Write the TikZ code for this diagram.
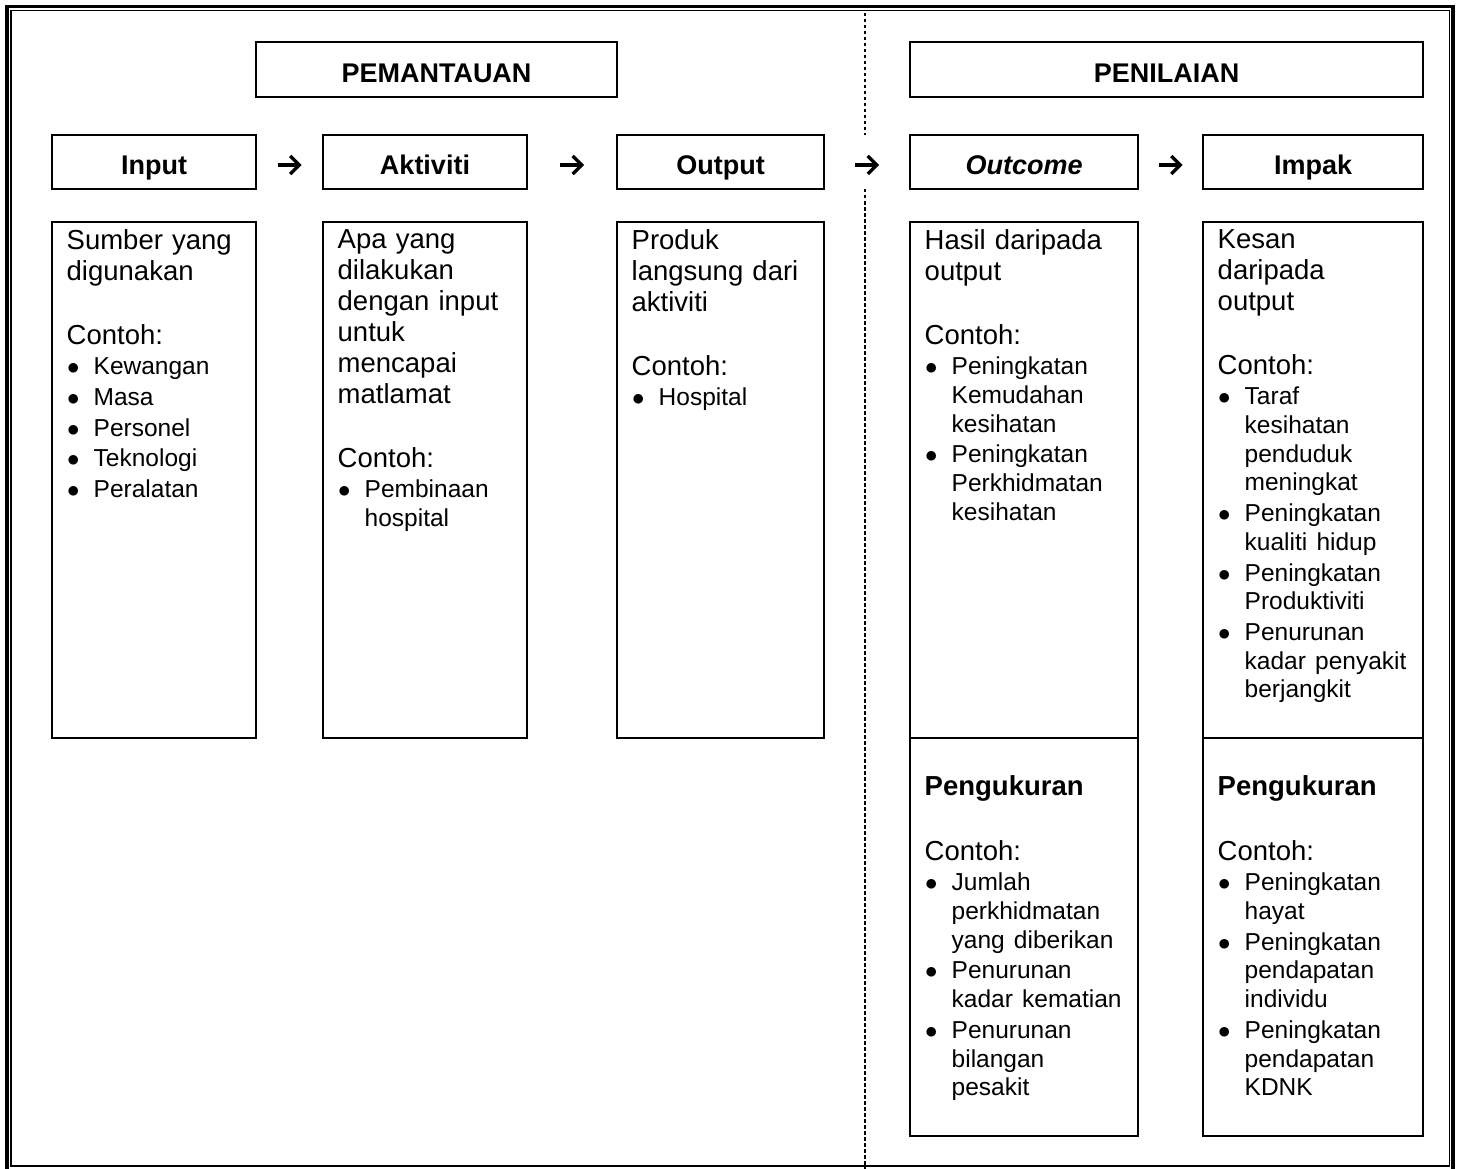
\documentclass[tikz,border=0pt]{standalone}
\usepackage{fontspec}
\setmainfont{Liberation Sans}
\usetikzlibrary{calc}
\usetikzlibrary{positioning}
\usetikzlibrary{arrows.meta}
\newcommand\mainsz{\fontsize{27.5pt}{31pt}\selectfont}
\newcommand\bulsz{\fontsize{24.5pt}{28.7pt}\selectfont}
\newcommand\bul[1]{\par\vspace{2pt}{\bulsz\hangindent=27pt\hangafter=1\noindent\makebox[27pt][l]{\hspace{0.5pt}$\bullet$}#1\par}}
\tikzset{
boxline/.style={line width=2.2pt},
phasebox/.style={draw, boxline, outer sep=0pt, minimum width=#1, minimum height=55pt,
	text height=26pt, text depth=0pt, font=\fontsize{27pt}{32pt}\selectfont\bfseries},
stagebox/.style={phasebox=#1, minimum height=54pt},
descbox/.style 2 args={draw, boxline, outer sep=0pt, minimum width=#1, minimum height=#2},
desctext/.style={inner sep=0pt, text width=#1, align=left, font=\mainsz},
flow/.style={line width=3.2pt, -{Straight Barb[length=9pt, width=18pt]}},
divider/.style={line width=2.5pt, dash pattern=on 3.5pt off 2.5pt},
}
\begin{document}
\begin{tikzpicture}[x=1pt, y=-1pt]
	\useasboundingbox (0,0) rectangle (1458,1169);
	%
	\draw[line width=3.5pt] (7,6.5) rectangle (1453,1170.5);
	\draw[line width=1.5pt] (11,10.5) rectangle (1449.5,1166);
	%
	\node[stagebox=204pt] (in) at (154,162) {Input};
	\node[stagebox=204pt, right=67pt of in] (akt) {Aktiviti};
	\node[stagebox=207pt, right=90pt of akt] (out) {Output};
	\node[stagebox=228pt, right=86pt of out] (oc) {\itshape Outcome};
	\node[stagebox=220pt, right=65pt of oc] (imp) {Impak};
	%
	\node[phasebox=361pt, above right=38pt and 0pt of in.north east] (pem) {PEMANTAUAN};
	\node[phasebox=513pt, above right=38pt and 0pt of oc.north west] (pen) {PENILAIAN};
	%
	\foreach \a/\b in {in/akt, akt/out, out/oc, oc/imp}
		\draw[flow] ($(\a.east)!.5!(\b.west)+(-12,3)$) -- ++(24,0);
	%
	\draw[divider] (865,13) -- (865,135) (865,189) -- (865,1169);
	%
	\node[descbox={204pt}{516pt}, below=33pt of in] (indesc) {};
	\node[descbox={204pt}{516pt}, below=33pt of akt] (aktdesc) {};
	\node[descbox={207pt}{516pt}, below=33pt of out] (outdesc) {};
	\node[descbox={228pt}{516pt}, below=33pt of oc] (ocdesc) {};
	\node[descbox={220pt}{516pt}, below=33pt of imp] (impdesc) {};
	\node[descbox={228pt}{398pt}, below=0pt of ocdesc] (ocmeas) {};
	\node[descbox={220pt}{398pt}, below=0pt of impdesc] (impmeas) {};
	%
	\node[desctext=186pt, below right=7pt and 14.5pt of indesc.north west] (intext)
		{Sumber yang\\ digunakan\\[33pt] Contoh:\bul{Kewangan}\bul{Masa}\bul{Personel}\bul{Teknologi}\bul{Peralatan}};
	\node[desctext=186pt, below right=7pt and 14.5pt of aktdesc.north west] (akttext)
		{Apa yang\\ dilakukan\\ dengan input\\ untuk\\ mencapai\\ matlamat\\[33pt] Contoh:\bul{Pembinaan\newline hospital}};
	\node[desctext=189pt, below right=7pt and 14.5pt of outdesc.north west] (outtext)
		{Produk\\ langsung dari\\ aktiviti\\[33pt] Contoh:\bul{Hospital}};
	\node[desctext=210pt, below right=7pt and 14.5pt of ocdesc.north west] (octext)
		{Hasil daripada\\ output\\[33pt] Contoh:\bul{Peningkatan\newline Kemudahan\newline kesihatan}\bul{Peningkatan\newline Perkhidmatan\newline kesihatan}};
	\node[desctext=202pt, below right=7pt and 14.5pt of impdesc.north west] (imptext)
		{Kesan\\ daripada\\ output\\[33pt] Contoh:\bul{Taraf\newline kesihatan\newline penduduk\newline meningkat}\bul{Peningkatan\newline kualiti hidup}\bul{Peningkatan\newline Produktiviti}\bul{Penurunan\newline kadar penyakit\newline berjangkit}};
	%
	\node[desctext=210pt, below right=37pt and 14.5pt of ocmeas.north west] (ocmtext)
		{\textbf{Pengukuran}\\[34pt] Contoh:\bul{Jumlah\newline perkhidmatan\newline yang diberikan}\bul{Penurunan\newline kadar kematian}\bul{Penurunan\newline bilangan\newline pesakit}};
	\node[desctext=202pt, below right=37pt and 14.5pt of impmeas.north west] (impmtext)
		{\textbf{Pengukuran}\\[34pt] Contoh:\bul{Peningkatan\newline hayat}\bul{Peningkatan\newline pendapatan\newline individu}\bul{Peningkatan\newline pendapatan\newline KDNK}};
\end{tikzpicture}
\end{document}
